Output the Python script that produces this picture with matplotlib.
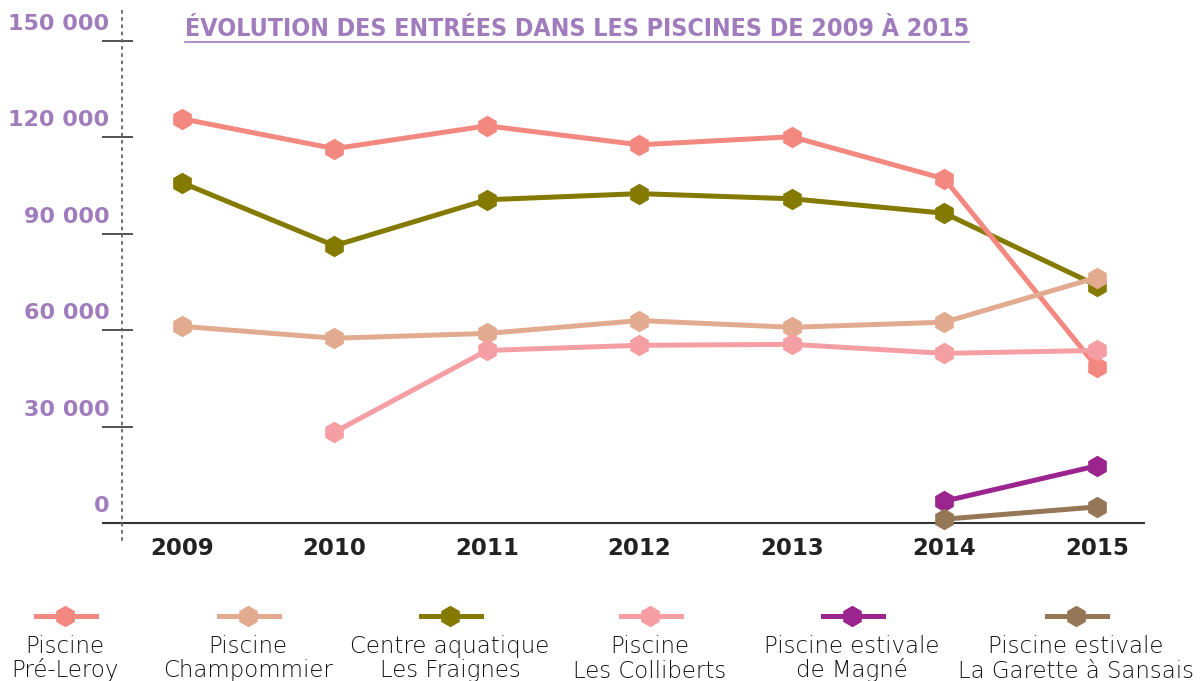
import matplotlib
matplotlib.use("Agg")
import matplotlib.pyplot as plt
import matplotlib.transforms as mtransforms
from matplotlib.lines import Line2D
import numpy as np

YEARS = [2009, 2010, 2011, 2012, 2013, 2014, 2015]
NAMES = [
    ("Piscine", "Pré-Leroy"),
    ("Piscine", "Champommier"),
    ("Centre aquatique", "Les Fraignes"),
    ("Piscine", "Les Colliberts"),
    ("Piscine estivale", "de Magné"),
    ("Piscine estivale", "La Garette à Sansais"),
]
COLORS = ["#F28880", "#E2AB90", "#857A00", "#F59FA4", "#9B248E", "#957656"]

pre_leroy = [125800, 116500, 123600, 117700, 120200, 107100, 48500]
champommier = [61200, 57500, 59000, 63000, 60900, 62500, 76400]
fraignes = [105900, 86300, 100600, 102500, 100900, 96400, 73900]
colliberts = [None, 28300, 53700, 55300, 55600, 52800, 53700]
magne = [None, None, None, None, None, 6800, 17800]
garette = [None, None, None, None, None, 1200, 5000]
SERIES = [pre_leroy, champommier, fraignes, colliberts, magne, garette]
DRAW_ORDER = [2, 0, 1, 3, 4, 5]

YTICKS = [0, 30000, 60000, 90000, 120000, 150000]
YTICK_LABELS = ["0", "30 000", "60 000", "90 000", "120 000", "150 000"]
TITLE = "ÉVOLUTION DES ENTRÉES DANS LES PISCINES DE 2009 À 2015"
PURPLE = "#A07CBC"

W, H = 1201, 681
fig = plt.figure(figsize=(W / 100, H / 100), dpi=100)
ax = fig.add_axes([122 / W, (H - 523) / H, 1023 / W, 482 / H])
ax.set_xlim(2008.6066, 2015.3148)
ax.set_ylim(0, 150000)
px = 1 / 152.5  # one pixel in year units

for i in DRAW_ORDER:
    vals = np.array([np.nan if v is None else v for v in SERIES[i]], dtype=float)
    ax.plot(YEARS, vals, color=COLORS[i], lw=3.6, marker="h", ms=15.5,
            mew=0, clip_on=False, zorder=3)

for s in ax.spines.values():
    s.set_visible(False)

# axis decorations
ax.hlines(YTICKS[1:], 2008.6066 - 20 * px, 2008.6066 + 11 * px, color="#444", lw=1.3, clip_on=False)
ax.hlines(0, 2008.6066 - 20 * px, 2015.3148, color="#333", lw=1.5, clip_on=False)
ax.plot([2008.6066, 2008.6066], [159500, -5500], color="#666", lw=1.3,
        ls=(0, (2, 2)), clip_on=False)

ax.set_yticks(YTICKS)
ax.set_yticklabels(YTICK_LABELS)
ax.tick_params(axis="y", length=0, pad=9, labelsize=16, labelcolor=PURPLE)
for lbl in ax.get_yticklabels():
    lbl.set_fontweight("bold")
    lbl.set_transform(lbl.get_transform() + mtransforms.ScaledTranslation(0, 19 / 100, fig.dpi_scale_trans))

ax.set_xticks(YEARS)
ax.set_xticklabels([str(y) for y in YEARS])
ax.tick_params(axis="x", length=0, pad=10, labelsize=16.5, labelcolor="#222")
for lbl in ax.get_xticklabels():
    lbl.set_fontweight("bold")

# title with underline
t = fig.text(185 / W, 1 - 29 / H, TITLE, ha="left", va="center", color=PURPLE,
             fontsize=15, fontweight="bold", fontstretch="condensed",
             family=["DejaVu Sans"])
fig.canvas.draw()
bb = t.get_window_extent()
t.set_fontsize(15 * 787 / bb.width)
fig.canvas.draw()
bb = t.get_window_extent()
fig.add_artist(Line2D([bb.x0 / W, bb.x1 / W], [1 - 42 / H, 1 - 42 / H],
                      color=PURPLE, lw=1.2))

# legend
LEG_X = [65, 248, 450, 650, 852, 1076]
for i, x in enumerate(LEG_X):
    y = 1 - 616 / H
    fig.add_artist(Line2D([(x - 29) / W, (x + 31) / W], [y, y], color=COLORS[i],
                          lw=3.6))
    fig.add_artist(Line2D([x / W], [y], color=COLORS[i], marker="h", ms=15.5, mew=0))
    for j, line in enumerate(NAMES[i]):
        fig.text(x / W, 1 - (653 + 24.5 * j) / H, line, ha="center", va="baseline",
                 fontsize=16.5, color="#111", family=["DejaVu Sans"],
                 fontweight="light")

fig.savefig("out.png", dpi=100)
